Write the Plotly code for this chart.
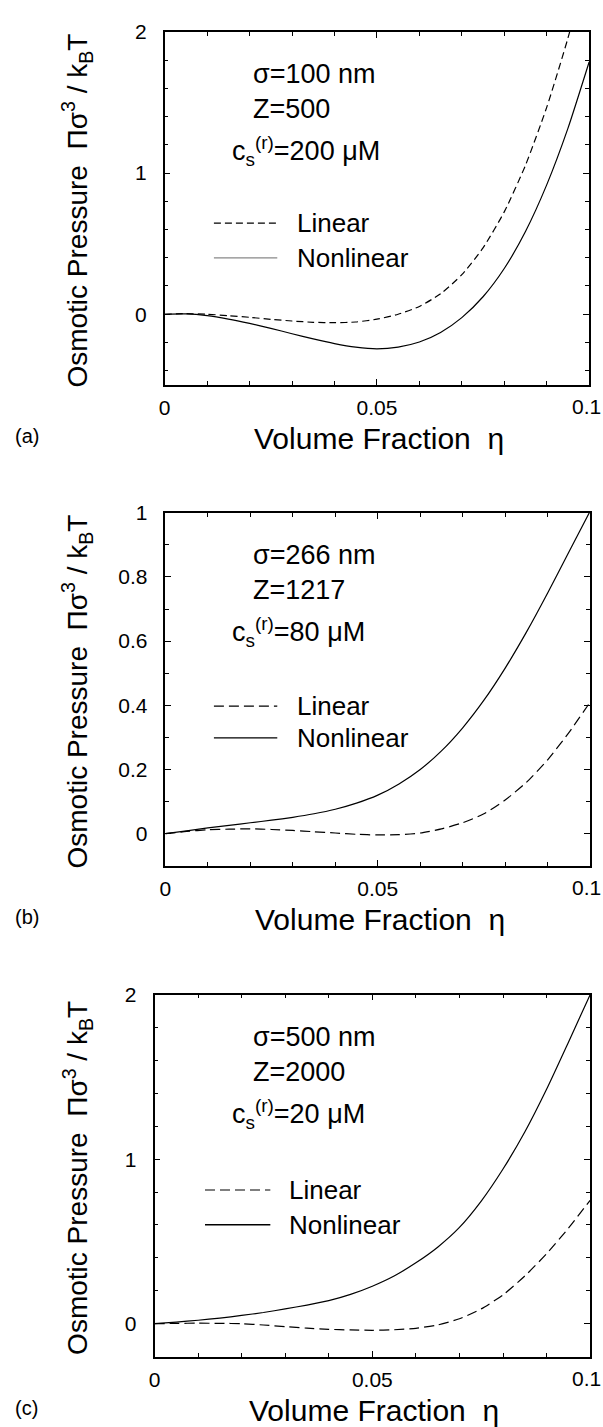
import plotly.graph_objects as go

W, H = 603, 1427

eta = [0, 0.005, 0.01, 0.015, 0.02, 0.025, 0.03, 0.035, 0.04, 0.045, 0.05,
       0.055, 0.06, 0.065, 0.07, 0.075, 0.08, 0.085, 0.09, 0.095, 0.1]

lin_a = [0, 0.004, 0.0, -0.01, -0.022, -0.036, -0.048, -0.057, -0.06, -0.055, -0.035,
         0.0, 0.055, 0.145, 0.28, 0.47, 0.725, 1.055, 1.465, 1.955, 2.525]
non_a = [0, 0.002, -0.01, -0.034, -0.065, -0.1, -0.138, -0.175, -0.208, -0.233, -0.245,
         -0.233, -0.197, -0.129, -0.024, 0.124, 0.324, 0.586, 0.916, 1.316, 1.786]

lin_b = [0, 0.007, 0.012, 0.014, 0.015, 0.013, 0.01, 0.006, 0.002, -0.002, -0.004,
         -0.003, 0.002, 0.015, 0.034, 0.062, 0.105, 0.16, 0.23, 0.315, 0.41]
non_b = [0, 0.009, 0.018, 0.026, 0.034, 0.042, 0.051, 0.062, 0.076, 0.095, 0.12,
         0.155, 0.2, 0.258, 0.33, 0.416, 0.516, 0.628, 0.75, 0.878, 1.005]

lin_c = [0, 0.002, 0.003, 0.002, 0.0, -0.008, -0.018, -0.027, -0.034, -0.038, -0.04,
         -0.037, -0.028, -0.008, 0.03, 0.09, 0.175, 0.29, 0.425, 0.58, 0.75]
non_c = [0, 0.01, 0.021, 0.034, 0.05, 0.068, 0.09, 0.113, 0.14, 0.178, 0.228,
         0.29, 0.37, 0.465, 0.585, 0.745, 0.94, 1.165, 1.425, 1.71, 2.0]

panel_labels = ["(a)", "(b)", "(c)"]
params = [
    ["σ=100 nm", "Z=500", "c<sub>s</sub><sup>(r)</sup>=200 μM"],
    ["σ=266 nm", "Z=1217", "c<sub>s</sub><sup>(r)</sup>=80 μM"],
    ["σ=500 nm", "Z=2000", "c<sub>s</sub><sup>(r)</sup>=20 μM"],
]
x_ticks = [0, 0.05, 0.1]
x_ticktext = ["0", "0.05", ""]
x_last_label = "0.1"
y_ticks = [[0, 1, 2], [0, 0.2, 0.4, 0.6, 0.8, 1], [0, 1, 2]]
y_ticktext = [["0", "1", "2"], ["0", "0.2", "0.4", "0.6", "0.8", "1"], ["0", "1", "2"]]
y_ranges = [[-0.5, 2], [-0.1, 1], [-0.2, 2]]
y_minor = [0.2, 0.1, 0.2]
series = [(lin_a, non_a), (lin_b, non_b), (lin_c, non_c)]

# layout geometry in pixels (left, right, top, bottom)
boxes = [(160.3, 589, 20, 376), (161, 590, 505, 861), (150, 590, 991, 1356)]
dashes = ["7px,4px", "10px,5px", "10px,5px"]

FONT = "Liberation Sans, Arial, Helvetica, sans-serif"


def px(x):
    return x / W


def py(y):
    return 1 - y / H


fig = go.Figure()
layout = dict(width=W, height=H, margin=dict(l=0, r=0, t=0, b=0),
              paper_bgcolor="white", plot_bgcolor="white", showlegend=False,
              font=dict(family=FONT, color="black"))
annotations = []
shapes = []

for i, (box, (lin, non)) in enumerate(zip(boxes, series)):
    L, R, T, B = box
    xa = "x" if i == 0 else f"x{i+1}"
    ya = "y" if i == 0 else f"y{i+1}"
    fig.add_trace(go.Scatter(x=eta, y=lin, mode="lines", xaxis=xa, yaxis=ya,
                             line=dict(color="black", width=1.2, dash=dashes[i],
                                       shape="spline", smoothing=0.6),
                             cliponaxis=True))
    fig.add_trace(go.Scatter(x=eta, y=non, mode="lines", xaxis=xa, yaxis=ya,
                             line=dict(color="black", width=1.2,
                                       shape="spline", smoothing=0.6)))
    xkey = "xaxis" if i == 0 else f"xaxis{i+1}"
    ykey = "yaxis" if i == 0 else f"yaxis{i+1}"
    layout[xkey] = dict(domain=[px(L), px(R)], range=[0, 0.1], anchor=ya,
                        tickvals=x_ticks, ticktext=x_ticktext,
                        ticks="inside", ticklen=6, tickwidth=1, tickcolor="black",
                        minor=dict(dtick=0.01, tick0=0, ticks="inside", ticklen=4,
                                   tickcolor="black", tickwidth=1),
                        showline=True, linecolor="black", linewidth=1.5, mirror="ticks",
                        showgrid=False, zeroline=False, ticklabelstandoff=3,
                        tickfont=dict(size=21, family=FONT, color="black"))
    layout[ykey] = dict(domain=[py(B), py(T)], range=y_ranges[i], anchor=xa,
                        tickvals=y_ticks[i], ticktext=y_ticktext[i],
                        ticks="inside", ticklen=6, tickwidth=1, tickcolor="black",
                        minor=dict(dtick=y_minor[i], tick0=0, ticks="inside", ticklen=4,
                                   tickcolor="black", tickwidth=1),
                        showline=True, linecolor="black", linewidth=1.5, mirror="ticks",
                        showgrid=False, zeroline=False, ticklabelstandoff=12,
                        tickfont=dict(size=21, family=FONT, color="black"))

    # last x tick label, kept inside the page so nothing overflows
    annotations.append(dict(text=x_last_label, x=1.0, y=py(B + 22), xref="paper",
                            yref="paper", showarrow=False, xanchor="right", yanchor="middle",
                            font=dict(size=21, family=FONT, color="black")))
    # y title
    annotations.append(dict(text="Osmotic Pressure  Πσ<sup>3</sup> / k<sub>B</sub>T",
                            x=px(72), y=py((T + B) / 2 + 2), xref="paper", yref="paper",
                            textangle=-90, showarrow=False, xanchor="center", yanchor="middle",
                            font=dict(size=28, family=FONT, color="black")))
    # x title
    annotations.append(dict(text="Volume Fraction  η", x=px((L + R) / 2 + 2), y=py(B + 54),
                            xref="paper", yref="paper", showarrow=False,
                            xanchor="center", yanchor="middle",
                            font=dict(size=30, family=FONT, color="black")))
    # panel label
    annotations.append(dict(text=panel_labels[i], x=px(7), y=py(B + 52), xref="paper",
                            yref="paper", showarrow=False, xanchor="left", yanchor="middle",
                            font=dict(size=20, family=FONT, color="black")))
    # parameter text
    offs = [(247, T + 43), (247, T + 78), (226, T + 120)]
    for txt, (ax, ay) in zip(params[i], offs):
        annotations.append(dict(text=txt, x=px(ax), y=py(ay), xref="paper", yref="paper",
                                showarrow=False, xanchor="left", yanchor="middle",
                                font=dict(size=27, family=FONT, color="black")))
    # legend
    if i == 2:
        lx0, lx1, tx = 201, 267, 284
        ly1, ly2 = 1188, 1223
    elif i == 1:
        lx0, lx1, tx = 210, 274, 292
        ly1, ly2 = 700, 732
    else:
        lx0, lx1, tx = 210, 274, 292
        ly1, ly2 = 213, 248
    shapes.append(dict(type="line", xref="paper", yref="paper", x0=px(lx0), x1=px(lx1),
                       y0=py(ly1), y1=py(ly1),
                       line=dict(color="black", width=1.2, dash=dashes[i])))
    shapes.append(dict(type="line", xref="paper", yref="paper", x0=px(lx0), x1=px(lx1),
                       y0=py(ly2), y1=py(ly2),
                       line=dict(color="#888888" if i == 0 else "black", width=1.4)))
    for txt, ly in (("Linear", ly1), ("Nonlinear", ly2)):
        annotations.append(dict(text=txt, x=px(tx), y=py(ly), xref="paper", yref="paper",
                                showarrow=False, xanchor="left", yanchor="middle",
                                font=dict(size=26, family=FONT, color="black")))

layout["annotations"] = annotations
layout["shapes"] = shapes
fig.update_layout(**layout)
fig.write_html("out.html")
